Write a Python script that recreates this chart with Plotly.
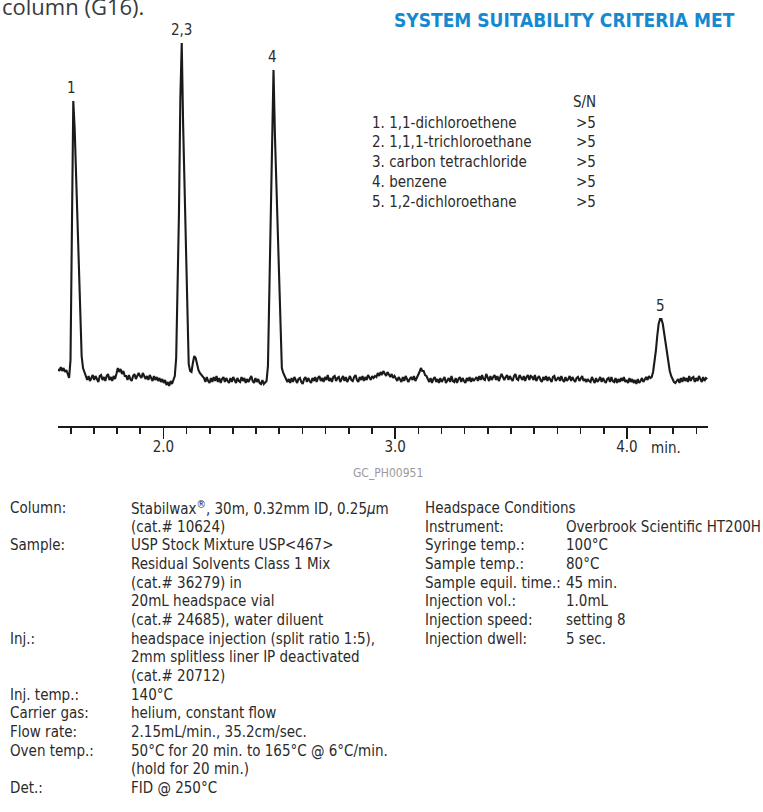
import numpy as np
import plotly.graph_objects as go

W, H = 763, 812

# ---------------- data ----------------
TIME_START = 1.545   # min
TIME_STEP = 0.006    # min per sample

SIG_START = [9, 7, 11, 7, 10, 6, 8, 4, 0]
PEAK_1 = [18, 140, 277, 249, 200, 151, 105, 57, 22, 10, 5, 2]
BASE_A = [-2, 2, -3, 1, 3, -2, 2, -1, -4, 2, 3, -2, 1, -3, 2, 4, -2, 1, -3, 2, -1]
BUMP_A = [4, 10, 6, 9, 4, 7, 2]
BASE_B = [2, -2, 3, -1, -3, 2, 4, -1, 3, 5, 2, 0, 5, 1, -1, 2, -2, 3, -1, -3, 2, -2, 1, -3]
DIP_B = [0, -4, -1, -5, -2, -7, -4, -8, -3, -6, -2, 2]
PEAK_23 = [20, 90, 165, 280, 335, 253, 186, 119, 52, 14, 7, 6, 15, 22, 20, 13, 8, 5, 3, 1]
BASE_C = [0, -4, 1, -3, -5, 0, -4, 1, -3, 2,
          -4, 0, -5, -1, 1, -4, 0, -3, -5, 0,
          -4, 1, -3, -5, 0, -3, -4, 1, -3, 0,
          -5, -1, -4, 0, 2, -3, -5, 0, -4, -1,
          -5, -6, -2, -6, -4]
PEAK_4 = [-3, 12, 85, 165, 245, 308, 244, 194, 144, 94, 44, 10, 5, 2]
BASE_D = [0, -4, -1, -5, 0, -4, 1, -3, -5, -1, 0, -4, -6, -1, 1, -4, 0, -3, -5, 0,
          -3, 1, -4, 0, 2, -3, 0, -4, 1, -2, 3, -3, 0, -4, 1, 2, -3, 0, 1, -4,
          0, 2, -3, 1, -4, 0, 2, -2, -3, 1, 3, -2, -4, 1, -2, 2, -3, 1, -2, 3, 1, -2, 2, 0]
BUMP_D = [2, 1, 5, 2, 6, 3, 7, 4, 2, 6, 3, 1, 4, 0, 2, -1]
BASE_E = [-3, 1, -2, -4, 1, -3, 2, -2, -4, -1, 1, -2, 2, -3, 0]
BUMP_E = [2, 6, 10, 7, 7, 3, 2, -2]
BASE_F = [-4, 0, -5, -1, 1, -4, -1, -5, 0, -4, -1, 1, -5, -2, 0, -4, 2, -3, -4, 0,
          -5, -1, 1, -4, 0, -3, -5, 0, -3, 1, -4, 0, -3, -1,
          1, -3, 2, -2, 3, -1, -2, 4, 0, -3, 2, -2, 1, 3, -2, 2, -3, 0, 4, 1,
          -2, 1, 3, -2, 2, -1, -3, 2, 4, -1, -2, 3, 0, -2, 2, -3, 1, 3, -2, 2,
          1, -2, 3, -3, 0, 2, -2, -4, 1, -2, 2, -3, 1, -2, -4, 1, 2, -3, -1, 1,
          -3, 2, -2, -4, 1, -3, -1, 2, -3, 1, -2, -4, 0, 1, -3, -1, 2, -3, -1, -4,
          -1, -3, -4, 1, -3, -5, 0, -4, -2, 1, -4, 0, -3, -5, -1, 0, -4, 1, -3, -4,
          0, -5, -1, -4, 0, -3, 1, -4, -2, -5, 0, -4, -1, -5, -2, -6, -1, -5, -3, 0,
          -4, -1, 1, -2, 2, 0]
PEAK_5 = [1, 6, 15, 27, 42, 54, 59, 59, 54, 44, 34, 24, 15, 7, 2, -2, -4, -5, -3]
BASE_END = [-1, -5, 0, -4, 1, -3, 0, -4, 2, -3, 0, 1, -4, 0, -3, 2, -2, -4, 1, -3, 0, -1]

SIGNAL = (SIG_START + PEAK_1 + BASE_A + BUMP_A + BASE_B + DIP_B + PEAK_23 + BASE_C
          + PEAK_4 + BASE_D + BUMP_D + BASE_E + BUMP_E + BASE_F + PEAK_5 + BASE_END)
TIME = TIME_START + TIME_STEP * np.arange(len(SIGNAL))

PEAK_LABELS = ["1", "2,3", "4", "5"]
PEAK_TIMES = [1.605, 2.079, 2.472, 4.147]
PEAK_HEIGHTS = [277, 335, 308, 59]

MAJOR_TICKS = [2.0, 3.0, 4.0]
MAJOR_TICK_TEXT = ["2.0", "3.0", "4.0"]
MINOR_TICKS = [round(1.6 + 0.1 * k, 1) for k in range(28)]

COMPOUNDS = ["1. 1,1-dichloroethene", "2. 1,1,1-trichloroethane",
             "3. carbon tetrachloride", "4. benzene", "5. 1,2-dichloroethane"]
SN_VALUES = ["&gt;5", "&gt;5", "&gt;5", "&gt;5", "&gt;5"]

LEFT_LABELS = ["Column:", "", "Sample:", "", "", "", "", "Inj.:", "", "",
               "Inj. temp.:", "Carrier gas:", "Flow rate:", "Oven temp.:", "", "Det.:"]
LEFT_VALUES = ["Stabilwax<sup>®</sup>, 30m, 0.32mm ID, 0.25<i>µ</i>m",
               "(cat.# 10624)",
               "USP Stock Mixture USP&lt;467&gt;",
               "Residual Solvents Class 1 Mix",
               "(cat.# 36279) in",
               "20mL headspace vial",
               "(cat.# 24685), water diluent",
               "headspace injection (split ratio 1:5),",
               "2mm splitless liner IP deactivated",
               "(cat.# 20712)",
               "140°C",
               "helium, constant flow",
               "2.15mL/min., 35.2cm/sec.",
               "50°C for 20 min. to 165°C @ 6°C/min.",
               "(hold for 20 min.)",
               "FID @ 250°C"]
RIGHT_LABELS = ["Headspace Conditions", "Instrument:", "Syringe temp.:", "Sample temp.:",
                "Sample equil. time.:", "Injection vol.:", "Injection speed:", "Injection dwell:"]
RIGHT_VALUES = ["", "Overbrook Scientific HT200H", "100°C", "80°C", "45 min.",
                "1.0mL", "setting 8", "5 sec."]

# ---------------- styling ----------------
FONT = "Liberation Sans Narrow, DejaVu Sans Condensed, Arial Narrow, Roboto Condensed, Roboto, sans-serif"
TXT = "#2b2b2b"
INK = "#1a1a1a"
BODY = 15


def px(x, y):
    return x / W, 1 - y / H


fig = go.Figure()
fig.add_trace(go.Scatter(x=TIME, y=SIGNAL, mode="lines",
                         line=dict(color=INK, width=2.1), hoverinfo="skip",
                         showlegend=False))

ann = []


def text(x, y, s, size=BODY, color=TXT, xanchor="left", bold=False, family=FONT):
    xp, yp = px(x, y)
    ann.append(dict(x=xp, y=yp, xref="paper", yref="paper", text=s, showarrow=False,
                    xanchor=xanchor, yanchor="middle",
                    font=dict(family=family, size=size, color=color,
                              weight="bold" if bold else "normal")))


# cut-off sentence at the very top of the page
text(0, 6, "column (G16).", size=22, color="#3a3a3a", family="Open Sans, sans-serif")
# headline
text(564, 20, "SYSTEM SUITABILITY CRITERIA MET", size=19, color="#1589d0",
     xanchor="center", bold=True)

# peak labels (data coordinates)
for lab, t, h in zip(PEAK_LABELS, PEAK_TIMES, PEAK_HEIGHTS):
    ann.append(dict(x=t, y=h + 13, xref="x", yref="y", text=lab, showarrow=False,
                    xanchor="center", yanchor="middle",
                    font=dict(family=FONT, size=BODY, color=TXT)))

# peak list
text(598, 102, "S/N", xanchor="right")
for k, (c, sn) in enumerate(zip(COMPOUNDS, SN_VALUES)):
    y = 122.5 + 19.9 * k
    text(370, y, c)
    text(598, y, sn, xanchor="right")

# x-axis unit + figure code
text(649, 448, "min.")
text(388, 473, "GC_PH00951", size=12, color="#9a9a9a", xanchor="center")

# conditions
ROW0, ROWSTEP = 508, 18.67
for k, (lab, val) in enumerate(zip(LEFT_LABELS, LEFT_VALUES)):
    y = ROW0 + ROWSTEP * k
    if lab:
        text(8, y, lab)
    text(129, y, val)
for k, (lab, val) in enumerate(zip(RIGHT_LABELS, RIGHT_VALUES)):
    y = ROW0 + ROWSTEP * k
    text(423, y, lab)
    if val:
        text(564, y, val)

fig.update_layout(
    width=W, height=H, autosize=False,
    margin=dict(l=0, r=0, t=0, b=0),
    paper_bgcolor="white", plot_bgcolor="white",
    showlegend=False,
    annotations=ann,
    xaxis=dict(domain=[58 / W, 708 / W], range=[1.545, 4.35],
               showline=True, linecolor=INK, linewidth=2,
               ticks="outside", tickvals=MAJOR_TICKS, ticktext=MAJOR_TICK_TEXT,
               ticklen=11, tickwidth=1.6, tickcolor=INK, ticklabelstandoff=-5,
               tickfont=dict(family=FONT, size=BODY, color=TXT),
               minor=dict(tickvals=MINOR_TICKS, ticks="outside", ticklen=6,
                          tickwidth=1.6, tickcolor=INK, showgrid=False),
               showgrid=False, zeroline=False, fixedrange=True),
    yaxis=dict(domain=[1 - 426 / H, 1 - 30 / H], range=[-48, 348], visible=False,
               fixedrange=True),
)

fig.write_html("out.html", config={"displayModeBar": False, "staticPlot": True},
               post_script="document.body.style.margin='0';document.body.style.overflow='hidden';")
